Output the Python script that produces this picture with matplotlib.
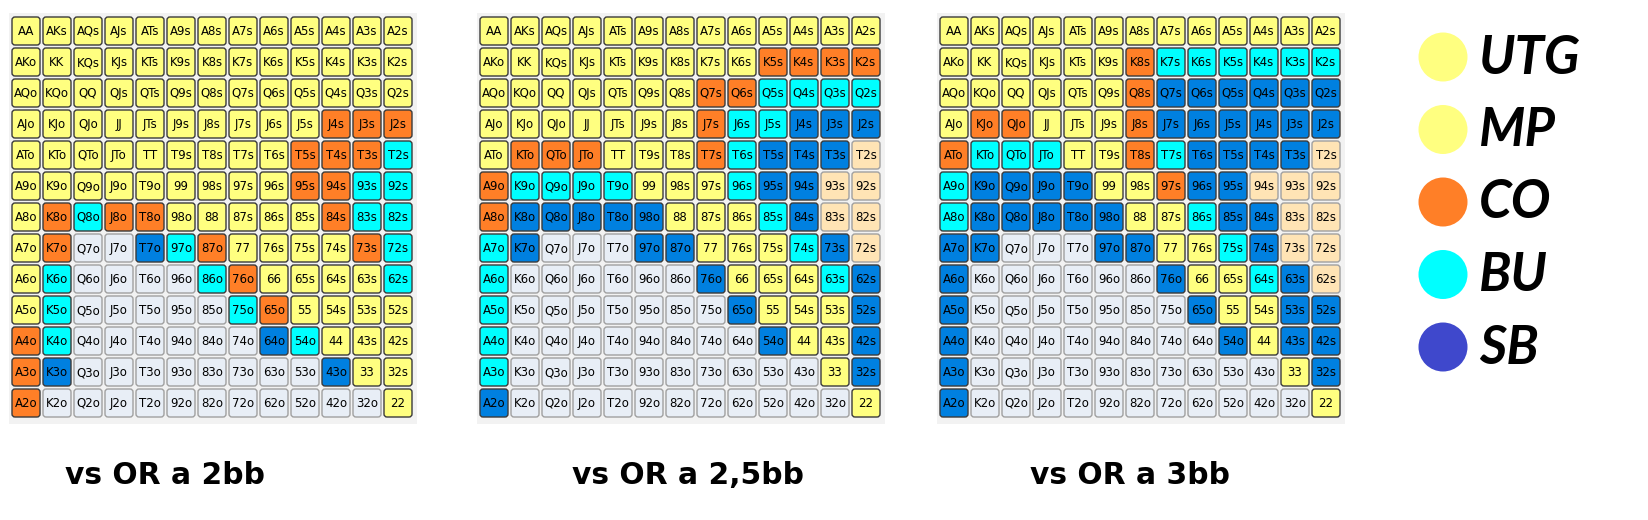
import matplotlib
matplotlib.use("Agg")
import matplotlib.pyplot as plt
from matplotlib.patches import FancyBboxPatch, Rectangle, Circle

# ---- data ----
ranks = list("AKQJT98765432")

titles = ["vs OR a 2bb", "vs OR a 2,5bb", "vs OR a 3bb"]

# Y = UTG/MP, O = CO, C = BU, B = SB, P = peach (marginal), G = fold
grid_2bb = [
    "YYYYYYYYYYYYY",
    "YYYYYYYYYYYYY",
    "YYYYYYYYYYYYY",
    "YYYYYYYYYYOOO",
    "YYYYYYYYYOOOC",
    "YYYYYYYYYOOCC",
    "YOCOOYYYYYOCC",
    "YOGGBCOYYYYOC",
    "YCGGGGCOYYYYC",
    "YCGGGGGCOYYYY",
    "OCGGGGGGBCYYY",
    "OBGGGGGGGGBYY",
    "OGGGGGGGGGGGY",
]
grid_25bb = [
    "YYYYYYYYYYYYY",
    "YYYYYYYYYOOOO",
    "YYYYYYYOOCCCC",
    "YYYYYYYOCCBBB",
    "YOOOYYYOCBBBP",
    "OCCCCYYYCBBPP",
    "OBBBBBYYYCBPP",
    "CBGGGBBYYYCBP",
    "CGGGGGGBYYYCB",
    "CGGGGGGGBYYYB",
    "CGGGGGGGGBYYB",
    "CGGGGGGGGGGYB",
    "BGGGGGGGGGGGY",
]
grid_3bb = [
    "YYYYYYYYYYYYY",
    "YYYYYYOCCCCCC",
    "YYYYYYOBBBBBB",
    "YOOYYYOBBBBBB",
    "OCCCYYOCBBBBP",
    "CBBBBYYOBBPPP",
    "CBBBBBYYCBBPP",
    "BBGGGBBYYCBPP",
    "BGGGGGGBYYCBP",
    "BGGGGGGGBYYBB",
    "BGGGGGGGGBYBB",
    "BGGGGGGGGGGYB",
    "BGGGGGGGGGGGY",
]
grids = [grid_2bb, grid_25bb, grid_3bb]

legend_labels = ["UTG", "MP", "CO", "BU", "SB"]
legend_colors = ["#FFFF80", "#FFFF80", "#FF7F27", "#00FFFF", "#3F48CC"]

# ---- styles ----
cell_colors = {"Y": "#FFFF80", "O": "#FF7F27", "C": "#00FFFF",
               "B": "#0080E0", "P": "#FFE4B5", "G": "#E8EEF6"}
edge_colors = {"Y": "#3A3A3A", "O": "#3A3A3A", "C": "#3A3A3A",
               "B": "#3A3A3A", "P": "#A0A0A0", "G": "#A0A0A0"}

W, H = 1648, 520
fig = plt.figure(figsize=(W / 100, H / 100), dpi=100)
ax = fig.add_axes([0, 0, 1, 1])
ax.set_xlim(0, W)
ax.set_ylim(H, 0)
ax.axis("off")

grid_x0 = [12, 480, 940]
grid_y0 = 17
pitch = 31
cell = 28
title_x = [65, 572, 1030]
title_y = 476


def hand_label(i, j):
    if i == j:
        return ranks[i] + ranks[j]
    if i < j:
        return ranks[i] + ranks[j] + "s"
    return ranks[j] + ranks[i] + "o"


for g, grid in enumerate(grids):
    x0 = grid_x0[g]
    ax.add_patch(Rectangle((x0 - 3, grid_y0 - 4), 13 * pitch + 5, 13 * pitch + 8,
                           facecolor="#F2F2F2", edgecolor="none", zorder=0))
    for i, row in enumerate(grid):
        for j, code in enumerate(row):
            cx = x0 + j * pitch
            cy = grid_y0 + i * pitch
            ax.add_patch(FancyBboxPatch((cx, cy), cell, cell,
                                        boxstyle="round,pad=0,rounding_size=3",
                                        facecolor=cell_colors[code],
                                        edgecolor=edge_colors[code],
                                        linewidth=1.0, zorder=1))
            ax.text(cx + cell / 2, cy + cell / 2 + 0.5, hand_label(i, j),
                    ha="center", va="center", fontsize=8.5,
                    family="DejaVu Sans", color="black", zorder=2)
    ax.text(title_x[g], title_y, titles[g], ha="left", va="center",
            fontsize=21.4, fontweight="bold", family="DejaVu Sans", color="black")

leg_x = 1443
leg_y0 = 57
leg_dy = 72.5
for k, (lab, col) in enumerate(zip(legend_labels, legend_colors)):
    yy = leg_y0 + k * leg_dy
    ax.add_patch(Circle((leg_x, yy), 24.5, facecolor=col, edgecolor="none", zorder=1))
    ax.text(1479, yy + 1, lab, ha="left", va="center", fontsize=38,
            fontweight="bold", fontstyle="italic", family=["Lato", "DejaVu Sans"],
            color="black")

fig.savefig("out.png", dpi=100, facecolor="white")
